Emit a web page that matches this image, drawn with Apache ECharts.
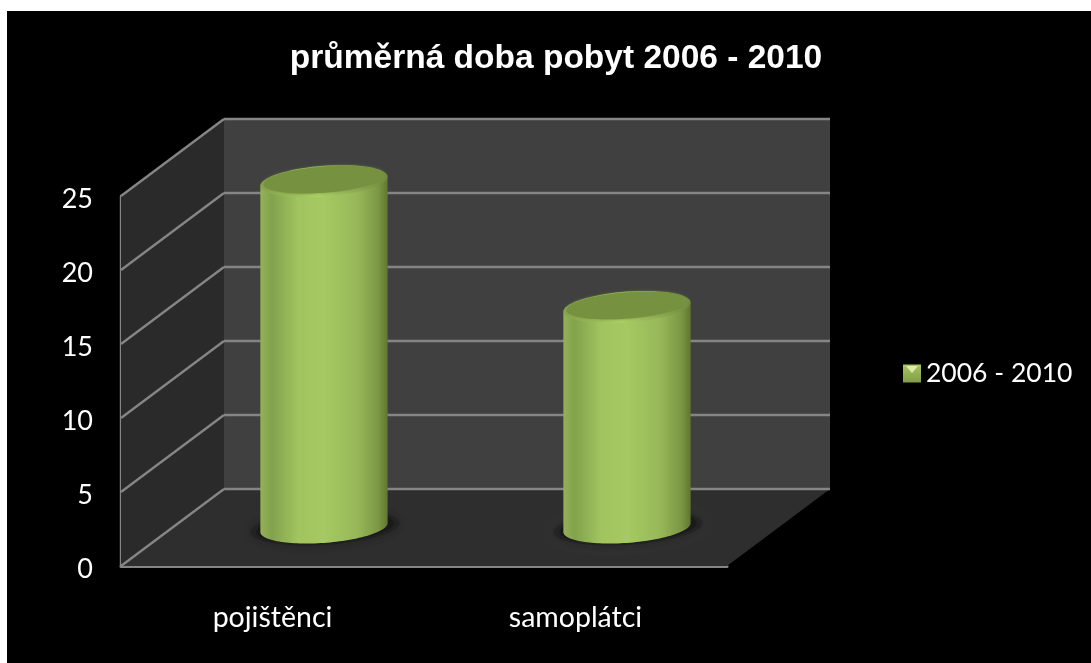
<!DOCTYPE html>
<html>
<head>
<meta charset="utf-8">
<style>html,body{margin:0;padding:0;background:#fff}#chart{width:1091px;height:663px}</style>
<script src="https://cdn.jsdelivr.net/npm/echarts@6/dist/echarts.min.js"></script>
</head>
<body>
<div id="chart"></div>
<script>
const categories = ['pojištěnci', 'samoplátci'];
const seriesName = '2006 - 2010';
const stayValues = [23.4, 14.9];
const yTicks = [0, 5, 10, 15, 20, 25];

// Oblique depth of the chart box, in pixels.
const DEPTH_X = 103, DEPTH_Y = -77;
const LINE = '#858585';

const chart = echarts.init(document.getElementById('chart'), null, { renderer: 'canvas' });

function ellipsePoints(cx, cy, a, b, skew, from, to, n) {
  const pts = [];
  for (let i = 0; i <= n; i++) {
    const t = from + (to - from) * i / n;
    pts.push([cx + a * Math.cos(t), cy + b * Math.sin(t) - skew * Math.cos(t)]);
  }
  return pts;
}

function renderBox(params, api) {
  const g = params.coordSys;
  const tick = api.value(1);
  const y = api.coord([0, tick])[1];
  const left = g.x, right = g.x + g.width, bottom = g.y + g.height, top = g.y;
  const children = [];
  const line = (x1, y1, x2, y2) => ({
    type: 'line',
    shape: { x1, y1, x2, y2 },
    style: { stroke: LINE, lineWidth: 2.4, fill: null }
  });
  if (params.dataIndex === 0) {
    children.push(
      { type: 'polygon', shape: { points: [[left + DEPTH_X, top + DEPTH_Y], [right + DEPTH_X, top + DEPTH_Y], [right + DEPTH_X, bottom + DEPTH_Y], [left + DEPTH_X, bottom + DEPTH_Y]] }, style: { fill: '#404040' } },
      { type: 'polygon', shape: { points: [[left, top], [left + DEPTH_X, top + DEPTH_Y], [left + DEPTH_X, bottom + DEPTH_Y], [left, bottom]] }, style: { fill: '#2a2a2a' } },
      { type: 'polygon', shape: { points: [[left, bottom], [left + DEPTH_X, bottom + DEPTH_Y], [right + DEPTH_X, bottom + DEPTH_Y], [right, bottom]] }, style: { fill: '#2e2e2e' } }
    );
  }
  children.push(line(left, y, left + DEPTH_X, y + DEPTH_Y));
  children.push(line(left + DEPTH_X, y + DEPTH_Y, right + DEPTH_X, y + DEPTH_Y));
  return { type: 'group', children };
}

function renderCylinder(params, api) {
  const top = api.coord([api.value(0), api.value(1)]);
  const base = api.coord([api.value(0), 0]);
  const band = api.size([1, 0])[0];
  const a = band * 0.21, b = 15.4, skew = 4.5;
  const cx = top[0] + DEPTH_X / 2;
  const topY = top[1] + DEPTH_Y / 2;
  const baseY = base[1] + DEPTH_Y / 2;

  const sideGradient = new echarts.graphic.LinearGradient(0, 0, 1, 0, [
    { offset: 0, color: '#94b256' },
    { offset: 0.09, color: '#82a24d' },
    { offset: 0.3, color: '#a2c460' },
    { offset: 0.5, color: '#a6c963' },
    { offset: 0.76, color: '#97b858' },
    { offset: 0.93, color: '#7a9644' },
    { offset: 1, color: '#5f7631' }
  ]);
  const rimGradient = new echarts.graphic.LinearGradient(0, 0, 1, 0, [
    { offset: 0, color: '#86a44c' },
    { offset: 0.45, color: '#aad164' },
    { offset: 0.7, color: '#94b457' },
    { offset: 1, color: '#6f8a3c' }
  ]);

  const body = [
    ...ellipsePoints(cx, topY, a, b, skew, Math.PI, 0, 1),
    ...ellipsePoints(cx, baseY, a, b, skew, 0, Math.PI, 64)
  ];
  return {
    type: 'group',
    children: [
      {
        type: 'polygon',
        shape: { points: ellipsePoints(cx + 1, baseY, a + 11, b + 2, skew, 0, Math.PI * 2, 64) },
        style: { fill: 'rgba(22,22,22,0.35)', shadowBlur: 9, shadowColor: 'rgba(22,22,22,0.4)' }
      },
      {
        type: 'polygon',
        shape: { points: ellipsePoints(cx + 1, baseY, a + 5, b, skew, 0, Math.PI * 2, 64) },
        style: { fill: 'rgba(22,22,22,0.6)', shadowBlur: 8, shadowColor: 'rgba(22,22,22,0.6)' }
      },
      { type: 'polygon', shape: { points: body }, style: { fill: sideGradient } },
      { type: 'polygon', shape: { points: ellipsePoints(cx, topY, a, b, skew, 0, Math.PI * 2, 72) }, style: { fill: rimGradient } },
      { type: 'polygon', shape: { points: ellipsePoints(cx, topY - 1.5, a * 0.95, b * 0.85, skew, 0, Math.PI * 2, 72) }, style: { fill: '#76913f', shadowBlur: 3, shadowColor: '#76913f' } }
    ]
  };
}

chart.setOption({
  animation: false,
  backgroundColor: '#fff',
  graphic: [
    { type: 'rect', z: -10, shape: { x: 7, y: 11, width: 1084, height: 652 }, style: { fill: '#000' } },
    { type: 'polygon', z: 50, shape: { points: [[906, 366], [918, 366], [912, 373]] }, style: { fill: '#dcedA8' } }
  ],
  title: {
    text: 'průměrná doba pobyt 2006 - 2010',
    left: 551, top: 37, textAlign: 'center',
    textStyle: { color: '#fff', fontFamily: 'Liberation Sans', fontWeight: 'bold', fontSize: 33.5 }
  },
  legend: {
    left: 898, top: 355, icon: 'rect', itemWidth: 18, itemHeight: 18, itemGap: 11,
    selectedMode: false,
    data: [{
      name: seriesName,
      itemStyle: { color: new echarts.graphic.LinearGradient(0, 0, 0, 1, [
        { offset: 0, color: '#a9c563' }, { offset: 1, color: '#7f9d46' }
      ]) }
    }],
    textStyle: { color: '#fff', fontFamily: 'Lato', fontSize: 26.5 }
  },
  grid: { left: 121, top: 196, width: 606, height: 370, containLabel: false },
  xAxis: {
    type: 'category', data: categories,
    axisLine: { lineStyle: { color: LINE, width: 3 } },
    axisTick: { show: false }, splitLine: { show: false },
    axisLabel: { color: '#fff', fontFamily: 'Lato', fontSize: 28.5, margin: 37 }
  },
  yAxis: {
    type: 'value', min: 0, max: 25, interval: 5,
    axisLine: { show: true, lineStyle: { color: LINE, width: 2.4 } },
    axisTick: { show: false }, splitLine: { show: false },
    axisLabel: { color: '#fff', fontFamily: 'Lato', fontSize: 27, margin: 28, verticalAlign: 'top', lineHeight: 6 }
  },
  series: [
    {
      type: 'custom', name: 'box', z: 1, silent: true,
      renderItem: renderBox,
      encode: { x: 0, y: 1 },
      data: yTicks.map(t => [0, t])
    },
    {
      type: 'custom', name: seriesName, z: 3,
      renderItem: renderCylinder,
      encode: { x: 0, y: 1 },
      data: stayValues.map((v, i) => [i, v])
    }
  ]
});
</script>
</body>
</html>
